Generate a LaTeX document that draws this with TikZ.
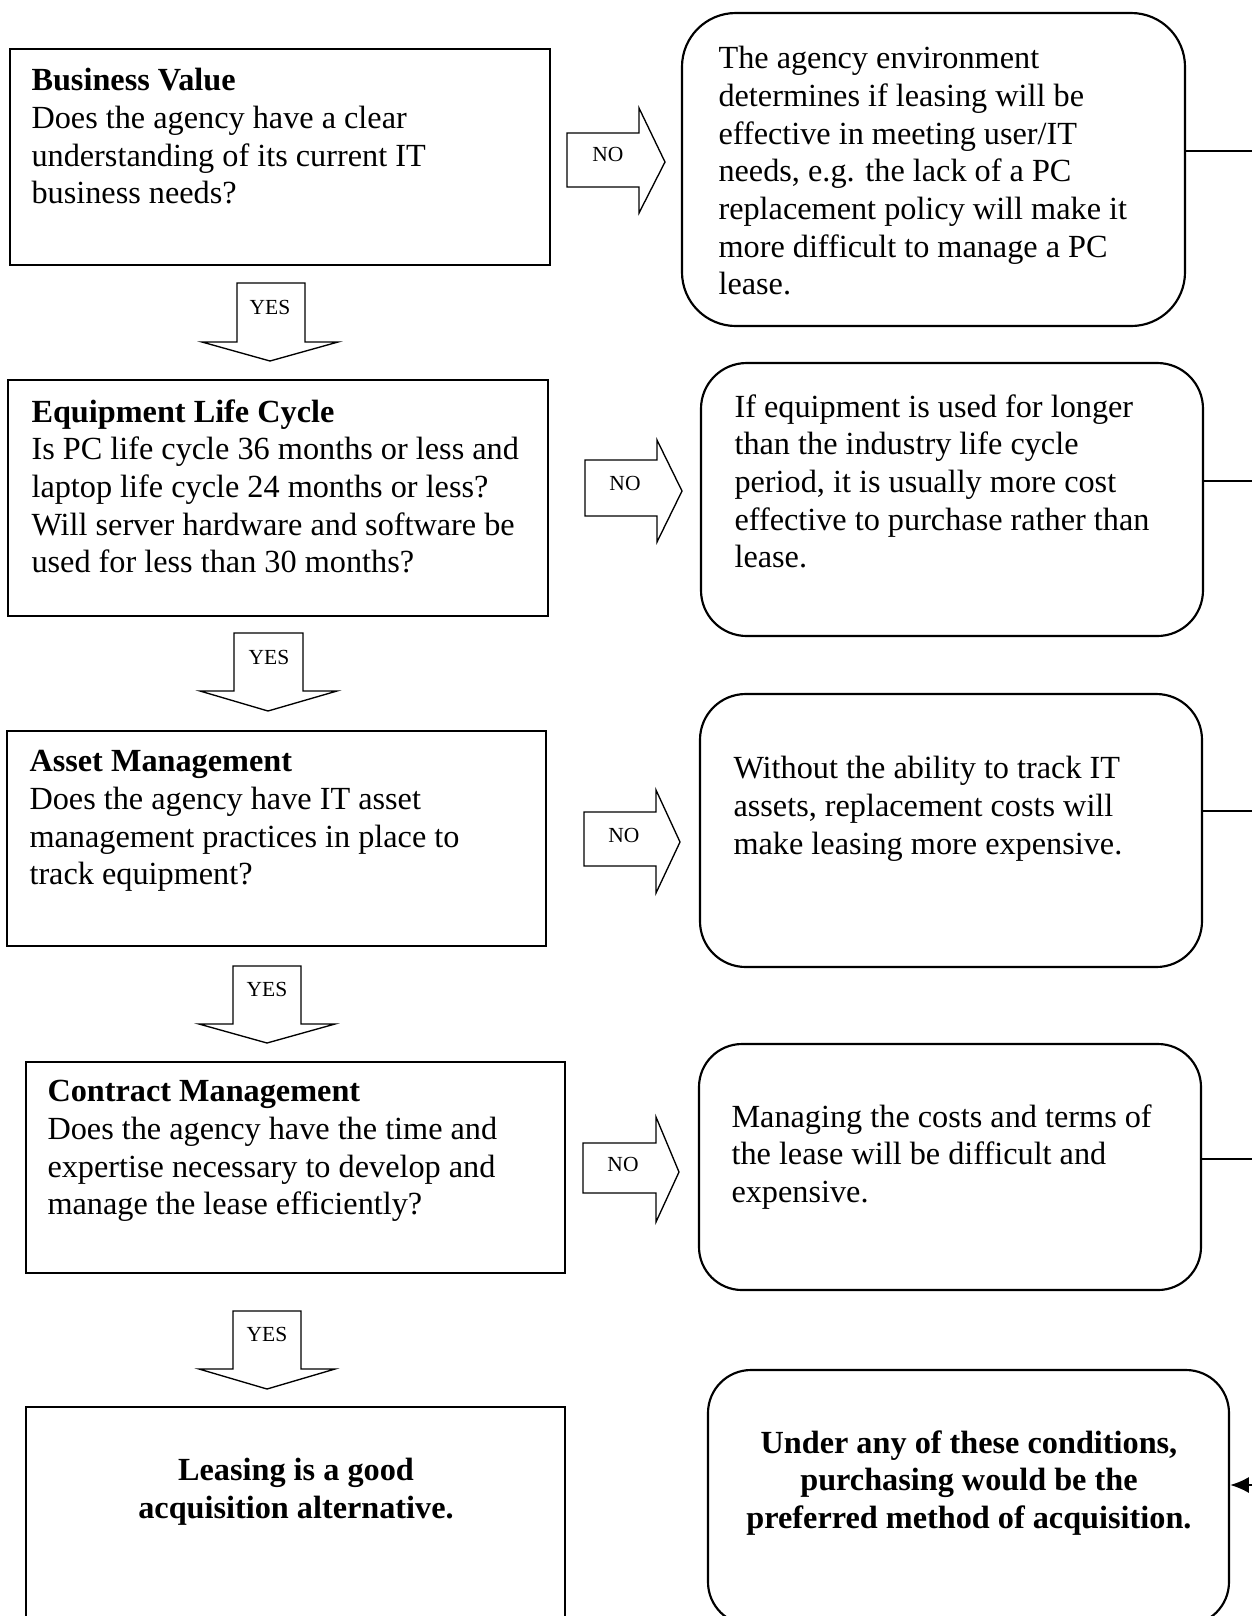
\documentclass[tikz,border=0pt]{standalone}
\usepackage{fontspec}
\setmainfont{Liberation Serif}
\usetikzlibrary{arrows.meta,fit}

\begin{document}
\begin{tikzpicture}[x=0.372pt,y=-0.372pt,
  qbox/.style={draw, line width=0.8pt, inner sep=0pt},
  abox/.style={draw, line width=0.8pt, inner sep=0pt, rounded corners=17pt},
  qtext/.style={inner sep=0pt, anchor=north west, align=left, font=\fontsize{12}{14}\selectfont},
  ctext/.style={inner sep=0pt, anchor=north, align=center, font=\bfseries\fontsize{12}{14}\selectfont},
  blockarrow/.style={draw, line width=0.5pt, fill=white},
  tag/.style={inner sep=0pt, font=\fontsize{8}{9}\selectfont},
  link/.style={line width=0.8pt}]
\useasboundingbox (0,0) rectangle (1252,1616);
\clip (0,0) rectangle (1252,1616);
%%% The question boxes on the left
\node[qbox, fit={(10,49) (550,265)}] (b1) {};
\node[qbox, fit={(8,380) (548,616)}] (b2) {};
\node[qbox, fit={(7,731) (546,946)}] (b3) {};
\node[qbox, fit={(26,1062) (565,1273)}] (b4) {};
\node[qbox, fit={(26,1407) (565,1660)}] (b5) {};
\node[qtext] (t1) at (31,68) {\textbf{Business Value}\\Does the agency have a clear\\understanding of its current IT\\business needs?};
\node[qtext] (t2) at (31,399) {\textbf{Equipment Life Cycle}\\Is PC life cycle 36 months or less and\\laptop life cycle 24 months or less?\\Will server hardware and software be\\used for less than 30 months?};
\node[qtext] (t3) at (29,750) {\textbf{Asset Management}\\Does the agency have IT asset\\management practices in place to\\track equipment?};
\node[qtext] (t4) at (47,1080) {\textbf{Contract Management}\\Does the agency have the time and\\expertise necessary to develop and\\manage the lease efficiently?};
\node[ctext] (t5) at (296,1458) {Leasing is a good\\acquisition alternative.};
%%% The answer boxes on the right
\node[abox, rounded corners=20pt, fit={(682,13) (1185,326)}] (r1) {};
\node[abox, fit={(701,363) (1203,636)}] (r2) {};
\node[abox, fit={(700,694) (1202,967)}] (r3) {};
\node[abox, rounded corners=16pt, fit={(699,1044) (1201,1290)}] (r4) {};
\node[abox, rounded corners=16pt, fit={(708,1370) (1229,1625)}] (r5) {};
\node[qtext] (s1) at (718,46) {The agency environment\\determines if leasing will be\\effective in meeting user/IT\\needs, e.g. the lack of a PC\\replacement policy will make it\\more difficult to manage a PC\\lease.};
\node[qtext] (s2) at (734,394) {If equipment is used for longer\\than the industry life cycle\\period, it is usually more cost\\effective to purchase rather than\\lease.};
\node[qtext] (s3) at (733,756) {Without the ability to track IT\\assets, replacement costs will\\make leasing more expensive.};
\node[qtext] (s4) at (731,1104) {Managing the costs and terms of\\the lease will be difficult and\\expensive.};
\node[ctext] (s5) at (969,1430) {Under any of these conditions,\\purchasing would be the\\preferred method of acquisition.};
%%% The NO arrows
\draw[blockarrow] (567,133) -- (639,133) -- (639,108) -- (665,162) -- (639,213) -- (639,187) -- (567,187) -- cycle;
\node[tag] (no1) at (608,154) {NO};
\draw[blockarrow] (585,460) -- (657,460) -- (657,440) -- (682,491) -- (657,542) -- (657,516) -- (585,516) -- cycle;
\node[tag] (no2) at (625,483) {NO};
\draw[blockarrow] (584,812) -- (656,812) -- (656,790) -- (680,842) -- (656,893) -- (656,866) -- (584,866) -- cycle;
\node[tag] (no3) at (624,835) {NO};
\draw[blockarrow] (583,1143) -- (656,1143) -- (656,1117) -- (679,1172) -- (656,1222) -- (656,1193) -- (583,1193) -- cycle;
\node[tag] (no4) at (623,1164) {NO};
%%% The YES arrows
\draw[blockarrow] (237,283) -- (305,283) -- (305,342) -- (338,342) -- (270,361) -- (202,342) -- (237,342) -- cycle;
\node[tag] (yes1) at (270,307) {YES};
\draw[blockarrow] (234,633) -- (303,633) -- (303,691) -- (337,691) -- (268,711) -- (200,691) -- (234,691) -- cycle;
\node[tag] (yes2) at (269,657) {YES};
\draw[blockarrow] (233,966) -- (301,966) -- (301,1024) -- (335,1024) -- (267,1043) -- (199,1024) -- (233,1024) -- cycle;
\node[tag] (yes3) at (267,989) {YES};
\draw[blockarrow] (233,1311) -- (301,1311) -- (301,1369) -- (335,1369) -- (267,1389) -- (199,1369) -- (233,1369) -- cycle;
\node[tag] (yes4) at (267,1334) {YES};
%%% Lines running off to the right, and back into the last box
\coordinate (e1) at (1252,151);
\coordinate (e2) at (1252,481);
\coordinate (e3) at (1252,811);
\coordinate (e4) at (1252,1159);
\coordinate (e5) at (1252,1485);
\draw[link] (r1.east |- e1) -- (e1);
\draw[link] (r2.east |- e2) -- (e2);
\draw[link] (r3.east |- e3) -- (e3);
\draw[link] (r4.east |- e4) -- (e4);
\draw[link, -{Latex[length=7pt,width=6pt]}] (e5) -- (e5 -| r5.east);
\end{tikzpicture}
\end{document}
